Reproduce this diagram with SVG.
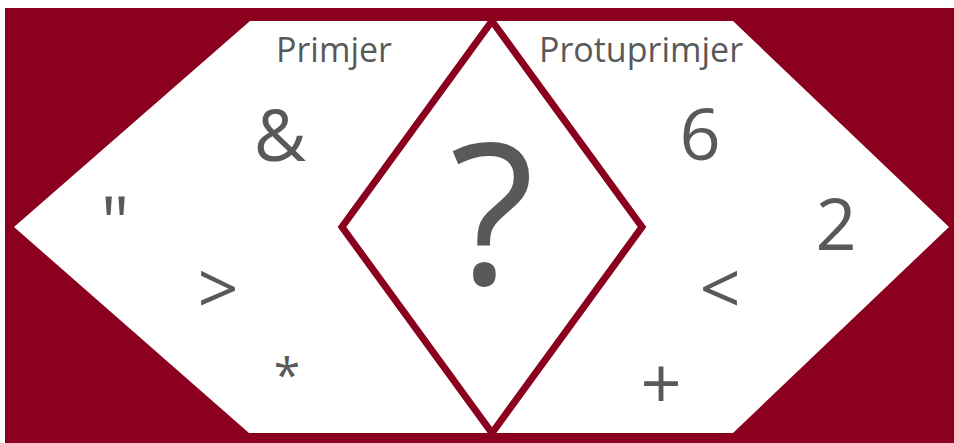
<svg xmlns="http://www.w3.org/2000/svg" width="954" height="443" viewBox="0 0 954 443">
<style>
.t{font-family:"Open Sans","Noto Sans","Liberation Sans",sans-serif;fill:#595959;text-anchor:middle}
.lbl{font-size:34px}
.sym{font-size:72px}
</style>
<rect x="0" y="0" width="954" height="443" fill="#ffffff"/>
<rect x="5" y="8" width="949" height="435" fill="#8A001E"/>
<g id="left-node">
<polygon points="250,21 492,21 492,433 249,433 14,227" fill="#ffffff"/>
<text class="t lbl" x="334" y="62">Primjer</text>
<text class="t sym" x="280" y="161">&amp;</text>
<text class="t sym" x="115" y="248">"</text>
<text class="t sym" x="218" y="314">&gt;</text>
<text class="t" x="287" y="392" style="font-size:48px">*</text>
</g>
<g id="right-node">
<polygon points="492,21 733,21 949,227 733,433 492,433" fill="#ffffff"/>
<text class="t lbl" x="641" y="62">Protuprimjer</text>
<text class="t sym" x="700" y="160">6</text>
<text class="t sym" x="836" y="250">2</text>
<text class="t sym" x="720" y="314">&lt;</text>
<text class="t sym" x="661" y="409">+</text>
</g>
<g id="center-node">
<polygon points="492,21 642,227 492,433 342,227" fill="#ffffff" stroke="#8A001E" stroke-width="7" stroke-linejoin="miter"/>
<text class="t" x="492" y="284" style="font-size:196px">?</text>
</g>
<g id="connectors"></g>
</svg>
